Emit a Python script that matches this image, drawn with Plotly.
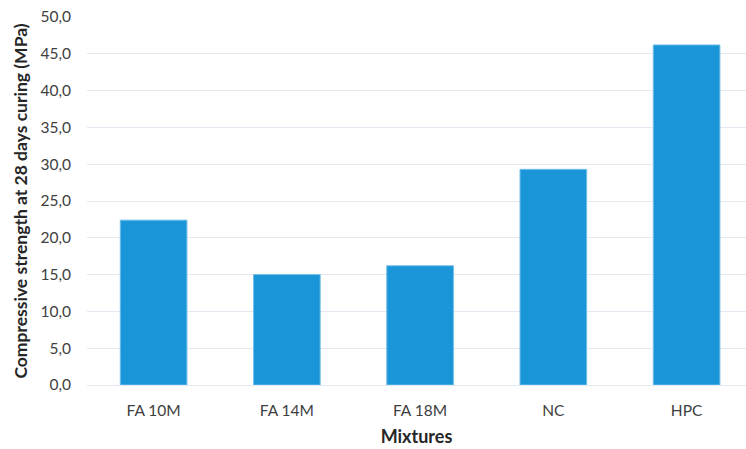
import plotly.graph_objects as go

# Compressive strength at 28 days for each mixture
mixtures = ["FA 10M", "FA 14M", "FA 18M", "NC", "HPC"]
strength_mpa = [22.4, 15.0, 16.2, 29.3, 46.2]
y_ticks = [0, 5, 10, 15, 20, 25, 30, 35, 40, 45, 50]

FONT = "Lato, 'Open Sans', sans-serif"

fig = go.Figure(
    go.Bar(
        x=mixtures,
        y=strength_mpa,
        marker=dict(color="#1A96D8", line=dict(color="#6FBDE8", width=1)),
        width=0.5,
    )
)

fig.update_layout(
    width=746,
    height=449,
    margin=dict(l=87, r=0, t=17, b=64),
    paper_bgcolor="white",
    plot_bgcolor="white",
    separators=",.",
    showlegend=False,
    font=dict(family=FONT, color="#595959", size=15),
    xaxis=dict(
        range=[-0.5, 4.446],
        showgrid=False,
        showline=False,
        zeroline=False,
        ticks="",
        ticklabelstandoff=14,
        tickfont=dict(size=15.5, color="#404040"),
        title=dict(
            text="<b>Mixtures</b>",
            font=dict(size=18, color="#262626"),
            standoff=12,
        ),
    ),
    yaxis=dict(
        range=[0, 50],
        tickvals=y_ticks,
        tickformat=".1f",
        showgrid=True,
        gridcolor="#E4E8F0",
        gridwidth=1,
        zeroline=True,
        zerolinecolor="#E4E8F0",
        zerolinewidth=1,
        showline=False,
        ticks="",
        ticklabelstandoff=15,
        tickfont=dict(size=15.5, color="#404040"),
        title=dict(
            text="<b>Compressive strength at 28 days curing (MPa)</b>",
            font=dict(size=17.5, color="#262626"),
            standoff=8,
        ),
    ),
)

fig.write_html("out.html")
